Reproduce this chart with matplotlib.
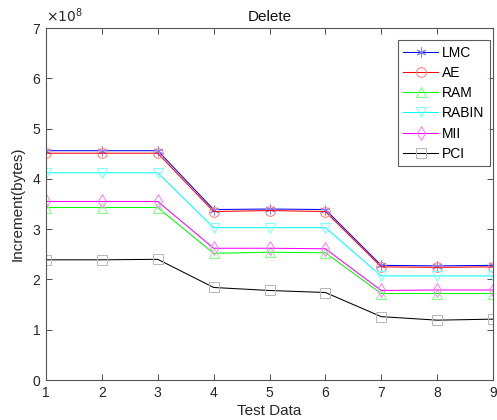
import matplotlib
matplotlib.use("Agg")
import matplotlib.pyplot as plt
import matplotlib.colors as mcolors
import numpy as np

plt.rcParams['font.family'] = ['Liberation Sans', 'DejaVu Sans']

test_data = [1, 2, 3, 4, 5, 6, 7, 8, 9]
LMC   = [4.56, 4.56, 4.56, 3.39, 3.40, 3.39, 2.28, 2.27, 2.28]
AE    = [4.51, 4.51, 4.51, 3.35, 3.37, 3.35, 2.25, 2.24, 2.25]
RAM   = [3.43, 3.43, 3.43, 2.52, 2.54, 2.53, 1.72, 1.72, 1.72]
RABIN = [4.12, 4.12, 4.12, 3.03, 3.03, 3.03, 2.07, 2.07, 2.07]
MII   = [3.55, 3.55, 3.55, 2.62, 2.62, 2.61, 1.78, 1.79, 1.79]
PCI   = [2.39, 2.39, 2.40, 1.84, 1.78, 1.74, 1.26, 1.19, 1.21]
scale = 1e8

series = [
    ("LMC", LMC, "#0000ff", (6, 2, 0)),
    ("AE", AE, "#ff0000", "o"),
    ("RAM", RAM, "#00ff00", "^"),
    ("RABIN", RABIN, "#00ffff", "v"),
    ("MII", MII, "#ff00ff", "d"),
    ("PCI", PCI, "#000000", "s"),
]

fig = plt.figure(figsize=(4.97, 4.20), dpi=100)
ax = fig.add_axes([46/497, 1-380/420, (493-46)/497, (380-28)/420])

def lighten(c, f=0.55):
    r, g, b = mcolors.to_rgb(c)
    return (r + (1-r)*f, g + (1-g)*f, b + (1-b)*f)

for name, vals, col, mk in series:
    ax.plot(test_data, np.array(vals)*scale, color=col, lw=0.75, marker=mk,
            markersize=7, markerfacecolor='none',
            markeredgecolor=lighten(col, 0.5 if col != "#000000" else 0.72),
            markeredgewidth=0.75, label=name)

ax.set_xlim(1, 9)
ax.set_ylim(0, 7e8)
ax.set_xticks(test_data)
ax.set_yticks(np.arange(0, 8)*scale)
ax.set_yticklabels([str(i) for i in range(8)])
ax.tick_params(direction='in', top=True, right=True, length=4, width=0.6,
               colors='#333333', labelsize=10, labelcolor='#262626', pad=4)
for s in ax.spines.values():
    s.set_color('#555555')
    s.set_linewidth(0.8)

ax.text(0.0, 1.008, r"$\times10^{8}$", transform=ax.transAxes, fontsize=10,
        color='#262626', ha='left', va='bottom')
ax.set_title("Delete", fontsize=11, color='#111111', pad=5)
ax.set_xlabel("Test Data", fontsize=11, color='#262626', labelpad=3)
ax.set_ylabel("Increment(bytes)", fontsize=11, color='#262626', labelpad=6)

leg = ax.legend(loc='upper right', bbox_to_anchor=((490-46)/447, (380-40)/352),
                fontsize=10, frameon=True, fancybox=False, handlelength=2.5,
                handletextpad=0.3, borderpad=0.4, labelspacing=0.45,
                borderaxespad=0)
leg.get_frame().set_edgecolor('#333333')
leg.get_frame().set_linewidth(0.8)

fig.savefig("out.png", dpi=100)
